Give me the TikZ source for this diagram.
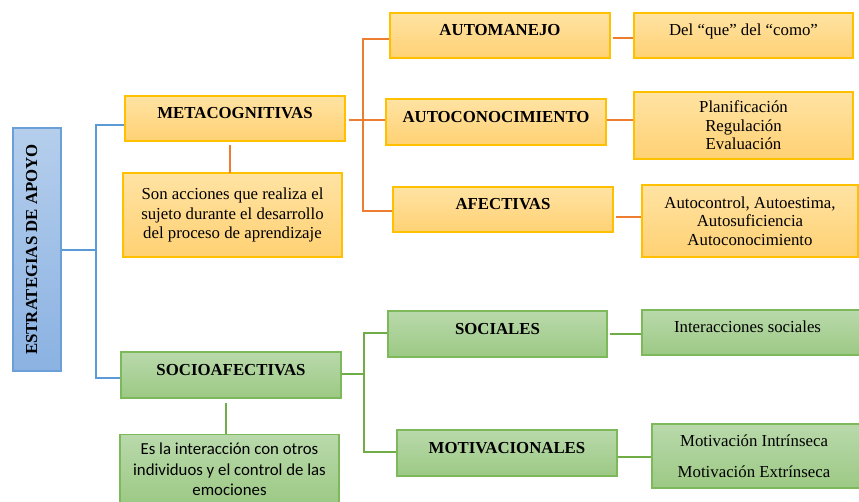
\documentclass[tikz,border=0pt]{standalone}
\usepackage{fontspec}
\setmainfont{Liberation Serif}
\newfontfamily\calib{Carlito}
\definecolor{oline}{HTML}{ED7D31}
\definecolor{oborder}{HTML}{FFC000}
\definecolor{otop}{HTML}{FFE3A3}
\definecolor{obot}{HTML}{FFD173}
\definecolor{gline}{HTML}{70AD47}
\definecolor{gborder}{HTML}{7DB85A}
\definecolor{gtop}{HTML}{B9D9AB}
\definecolor{gbot}{HTML}{9CC984}
\definecolor{bline}{HTML}{5B9BD5}
\definecolor{bborder}{HTML}{6A9FD8}
\definecolor{bleft}{HTML}{B5CEEC}
\definecolor{bright}{HTML}{8BB2E2}
\tikzset{
  box/.style={rectangle, line width=1.4pt, inner sep=0pt, align=center},
  obox/.style={box, draw=oborder, top color=otop, bottom color=obot},
  gbox/.style={box, draw=gborder, top color=gtop, bottom color=gbot},
  title/.style={font=\fontsize{16.8}{19}\selectfont\bfseries, text height=6pt, text depth=6pt},
  desc/.style={font=\fontsize{16.8}{18.5}\selectfont},
  descb/.style={font=\fontsize{16.8}{19.5}\selectfont},
  sdesc/.style={font=\calib\fontsize{16.8}{20.5}\selectfont},
  oconn/.style={draw=oline, line width=1.2pt},
  gconn/.style={draw=gline, line width=1.3pt},
  bconn/.style={draw=bline, line width=1.2pt},
}
\begin{document}
\begin{tikzpicture}[x=1pt,y=-1pt]
\clip (0,0) rectangle (859,501);
\fill[white] (0,0) rectangle (859,501);
% main nodes
\node[box, draw=bborder, top color=bleft, bottom color=bright, rotate=90,
      minimum width=243pt, minimum height=48pt, title] (est) at (37,249.5) {ESTRATEGIAS DE APOYO};
\node[obox, title, minimum width=220pt, minimum height=45pt] (meta) at (235,118.5) {METACOGNITIVAS};
\node[obox, descb, minimum width=219pt, minimum height=84pt] (metad) at (232.5,215) {Son acciones que realiza el\\sujeto durante el desarrollo\\del proceso de aprendizaje};
\node[obox, title, minimum width=220pt, minimum height=45pt] (automan) at (500,35.5) {AUTOMANEJO};
\node[obox, title, minimum width=220pt, minimum height=46pt] (autocon) at (496,122) {AUTOCONOCIMIENTO};
\node[obox, title, minimum width=220pt, minimum height=45pt] (afect) at (503,209.5) {AFECTIVAS};
\node[obox, desc, text height=6pt, text depth=6pt, minimum width=219pt, minimum height=45pt] (delque) at (743.5,35.5) {Del “que” del “como”};
\node[obox, desc, minimum width=219pt, minimum height=67pt] (plan) at (743.5,125.5) {Planificación\\Regulación\\Evaluación};
\node[obox, desc, minimum width=216pt, minimum height=72pt] (autoctl) at (750,221) {Autocontrol, Autoestima,\\Autosuficiencia\\Autoconocimiento};
\node[gbox, title, minimum width=220pt, minimum height=46pt] (socio) at (231,375) {SOCIOAFECTIVAS};
\node[gbox, sdesc, minimum width=219pt, minimum height=70pt, anchor=north] (sociod) at (229.5,434) {Es la interacción con otros\\individuos y el control de las\\emociones};
\node[gbox, title, minimum width=219pt, minimum height=46pt] (sociales) at (497.5,334) {SOCIALES};
\node[gbox, title, minimum width=220pt, minimum height=46pt] (motiv) at (507,453) {MOTIVACIONALES};
\node[gbox, desc, text height=6pt, text depth=6pt, minimum width=222pt, minimum height=45pt] (inter) at (753,332.5) {\hspace{-11pt}Interacciones sociales};
\node[gbox, desc, minimum width=212pt, minimum height=64pt] (motivd) at (758,456) {\hspace{-8pt}Motivación Intrínseca\\[12pt]\hspace{-8pt}Motivación Extrínseca};
% blue connectors
\coordinate (bt) at (96,125);
\coordinate (bb) at (96,378);
\draw[bconn] (est.south |- 0,250) -- (bt |- 0,250);
\draw[bconn] (meta.west |- bt) -- (bt) -- (bb) -- (socio.west |- bb);
% orange connectors
\coordinate (ot) at (363,39);
\coordinate (ob) at (363,211);
\draw[oconn, shorten <=3pt] (meta.east |- 0,120) -- (autocon.west |- 0,120);
\draw[oconn] (automan.west |- ot) -- (ot) -- (ob) -- (afect.west |- ob);
\draw[oconn, shorten <=4pt] (230,141) -- (230,173);
\draw[oconn, shorten <=2pt] (automan.east |- 0,38) -- (delque.west |- 0,38);
\draw[oconn] (autocon.east |- 0,120) -- (plan.west |- 0,120);
\draw[oconn, shorten <=2pt] (afect.east |- 0,217) -- (autoctl.west |- 0,217);
% green connectors
\coordinate (gt) at (364,333);
\coordinate (gb) at (364,452);
\draw[gconn, line width=2pt] (socio.east |- 0,374) -- (gt |- 0,374);
\draw[gconn] (sociales.west |- gt) -- (gt) -- (gb) -- (motiv.west |- gb);
\draw[gconn, shorten <=5pt] (226,398) -- (226,434);
\draw[gconn, shorten <=2pt] (sociales.east |- 0,334) -- (inter.west |- 0,334);
\draw[gconn] (motiv.east |- 0,457) -- (motivd.west |- 0,457);
\end{tikzpicture}
\end{document}
